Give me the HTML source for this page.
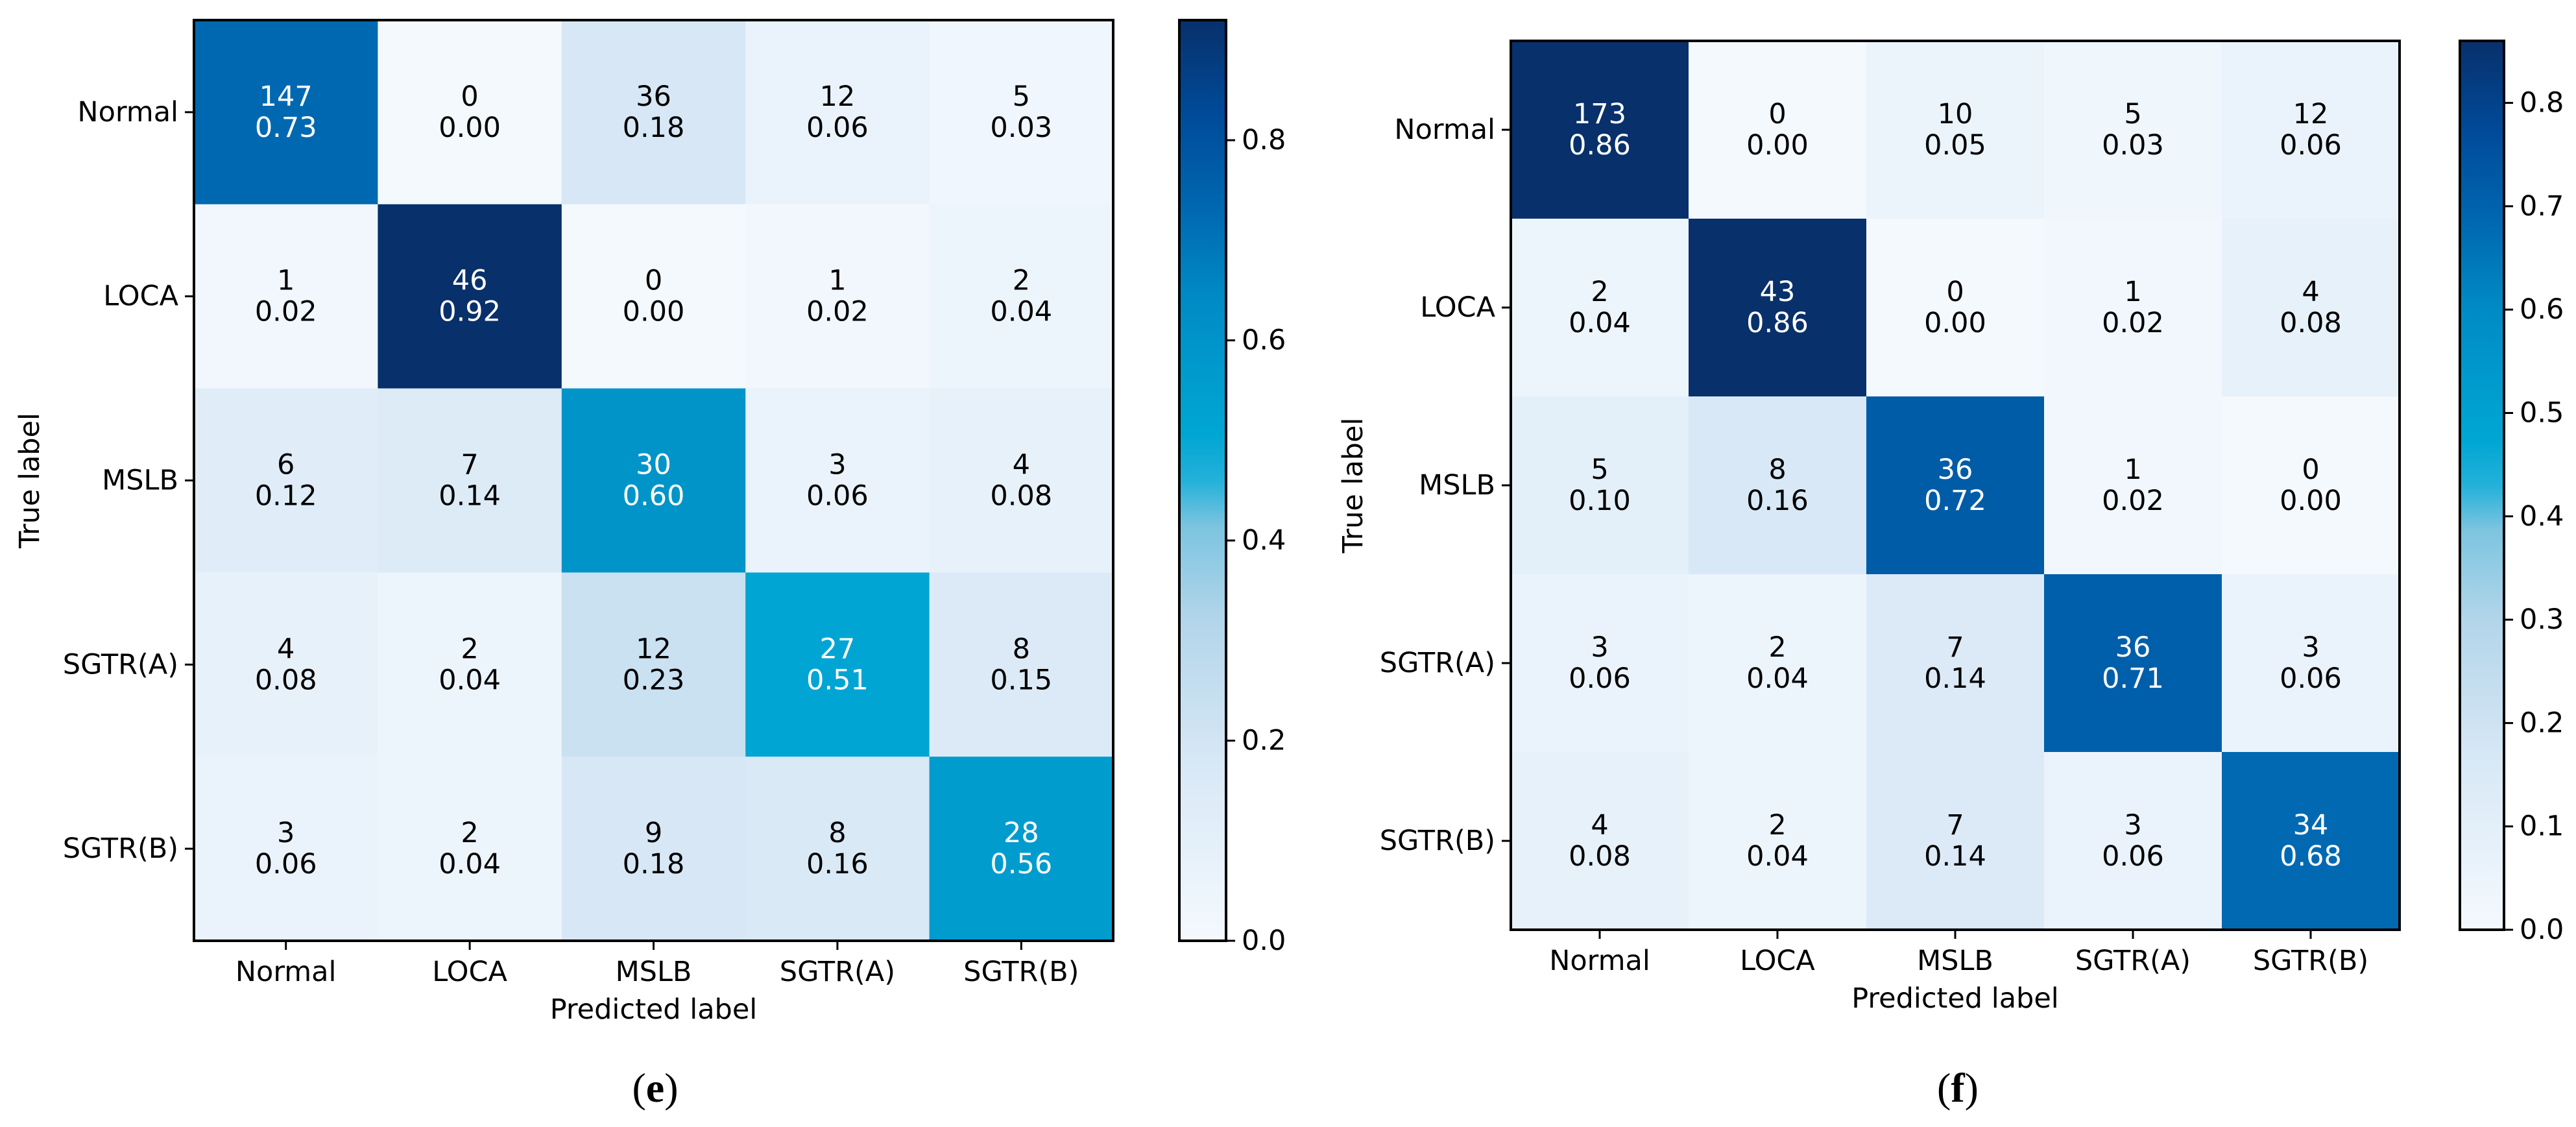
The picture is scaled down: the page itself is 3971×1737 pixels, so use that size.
<!DOCTYPE html>
<html><head><meta charset="utf-8"><style>
html,body{margin:0;padding:0;background:#fff;}
svg{display:block;}
text.sans{font-family:"DejaVu Sans","Liberation Sans",sans-serif;}
text.serif{font-family:"Liberation Serif","DejaVu Serif",serif;}
</style></head><body>
<svg id="fig" width="3971" height="1737" viewBox="0 0 3971 1737" xmlns="http://www.w3.org/2000/svg">
<rect x="0" y="0" width="3971" height="1737" fill="#fff"/>
</svg>
<script>
const classLabels = ["Normal","LOCA","MSLB","SGTR(A)","SGTR(B)"];
const countsE = [[147,0,36,12,5],[1,46,0,1,2],[6,7,30,3,4],[4,2,12,27,8],[3,2,9,8,28]];
const fracsE = [[0.73,0.00,0.18,0.06,0.03],[0.02,0.92,0.00,0.02,0.04],[0.12,0.14,0.60,0.06,0.08],[0.08,0.04,0.23,0.51,0.15],[0.06,0.04,0.18,0.16,0.56]];
const ticksE = [0.0,0.2,0.4,0.6,0.8];
const vmaxE = 0.92;
const countsF = [[173,0,10,5,12],[2,43,0,1,4],[5,8,36,1,0],[3,2,7,36,3],[4,2,7,3,34]];
const fracsF = [[0.86,0.00,0.05,0.03,0.06],[0.04,0.86,0.00,0.02,0.08],[0.10,0.16,0.72,0.02,0.00],[0.06,0.04,0.14,0.71,0.06],[0.08,0.04,0.14,0.06,0.68]];
const ticksF = [0.0,0.1,0.2,0.3,0.4,0.5,0.6,0.7,0.8];
const vmaxF = 0.86;

const NS="http://www.w3.org/2000/svg";
const svg=document.getElementById('fig');
const stops=[[0,[244,249,254]],[0.2,[214,231,245]],[0.35,[178,213,234]],[0.45,[124,196,224]],[0.52,[0,170,214]],[0.6,[0,158,207]],[0.7,[0,138,196]],[0.8,[0,102,176]],[0.9,[0,74,152]],[1,[8,48,107]]];
function cmap(t){t=Math.max(0,Math.min(1,t));for(let i=1;i<stops.length;i++){if(t<=stops[i][0]){const a=stops[i-1],b=stops[i];const f=(t-a[0])/(b[0]-a[0]);const c=a[1].map((v,k)=>Math.round(v+(b[1][k]-v)*f));return `rgb(${c[0]},${c[1]},${c[2]})`;}}return 'rgb(8,48,107)';}
function el(tag,attrs,parent){const e=document.createElementNS(NS,tag);for(const k in attrs)e.setAttribute(k,attrs[k]);(parent||svg).appendChild(e);return e;}
function txt(s,attrs,parent){if(!attrs.class)attrs.class='sans';const e=el('text',attrs,parent);e.textContent=s;return e;}

function drawPanel(p){
  const g=el('g',{});
  
  
  const n=classLabels.length;
  const cw=(p.x1-p.x0)/n, ch=(p.y1-p.y0)/n;
  const xs=i=>p.x0+i*cw, ys=j=>p.y0+j*ch;
  for(let r=0;r<n;r++)for(let c=0;c<n;c++){
    const v=p.fracs[r][c];
    const rc=el('rect',{x:xs(c),y:ys(r),width:cw+0.5,height:ch+0.5,fill:cmap(v/p.vmax)},g);
    
    
    const col=v/p.vmax>0.5?'#fff':'#000';
    const cx=xs(c)+cw/2, cy=ys(r)+ch/2;
    const t1=txt(String(p.counts[r][c]),{x:cx,y:cy-24,'font-size':43,fill:col,'text-anchor':'middle','dominant-baseline':'central'},g);
    
    
    const t2=txt(v.toFixed(2),{x:cx,y:cy+24,'font-size':43,fill:col,'text-anchor':'middle','dominant-baseline':'central'},g);
    
    
  }
  el('rect',{x:p.x0,y:p.y0,width:p.x1-p.x0,height:p.y1-p.y0,fill:'none',stroke:'#000','stroke-width':4},g);
  for(let i=0;i<n;i++){
    const x=xs(i)+cw/2, y=ys(i)+ch/2;
    el('line',{x1:x,y1:p.y1,x2:x,y2:p.y1+14,stroke:'#000','stroke-width':3},g);
    const xl=txt(classLabels[i],{x:x,y:p.y1+48,'font-size':43,'text-anchor':'middle','dominant-baseline':'central',fill:'#000'},g);
    
    
    el('line',{x1:p.x0-14,y1:y,x2:p.x0,y2:y,stroke:'#000','stroke-width':3},g);
    const yl=txt(classLabels[i],{x:p.x0-24,y:y,'font-size':43,'text-anchor':'end','dominant-baseline':'central',fill:'#000'},g);
    
    
  }
  const xt=txt('Predicted label',{x:(p.x0+p.x1)/2,y:p.y1+106,'font-size':43,'text-anchor':'middle','dominant-baseline':'central',fill:'#000'},g);
  
  
  const yt=txt('True label',{x:0,y:0,'font-size':43,'text-anchor':'middle','dominant-baseline':'central',fill:'#000',transform:`translate(${p.ytx},${(p.y0+p.y1)/2}) rotate(-90)`},g);
  
  
  const defs=el('defs',{},g);
  const lg=el('linearGradient',{id:p.name+'-grad',x1:0,y1:1,x2:0,y2:0},defs);
  for(let k=0;k<=20;k++){el('stop',{offset:k/20,'stop-color':cmap(k/20)},lg);}
  const cb=el('rect',{x:p.cbx0,y:p.y0,width:p.cbx1-p.cbx0,height:p.y1-p.y0,fill:`url(#${p.name}-grad)`,stroke:'#000','stroke-width':4},g);
  
  
  const cy=v=>p.y1-(v/p.vmax)*(p.y1-p.y0);
  p.ticks.forEach(v=>{
    el('line',{x1:p.cbx1,y1:cy(v),x2:p.cbx1+14,y2:cy(v),stroke:'#000','stroke-width':3},g);
    const ct=txt(v.toFixed(1),{x:p.cbx1+24,y:cy(v),'font-size':43,'dominant-baseline':'central',fill:'#000'},g);
    
    
  });
  const cap=txt('',{class:'serif',x:p.capx,y:1676,'font-size':64,'text-anchor':'middle','dominant-baseline':'central',fill:'#000'},g);
  
  
  const t1=el('tspan',{},cap);t1.textContent='(';
  const t2=el('tspan',{'font-weight':'bold'},cap);t2.textContent=p.cap;
  const t3=el('tspan',{},cap);t3.textContent=')';
}
drawPanel({name:'panel-e',x0:299,x1:1716,y0:31,y1:1450,cbx0:1818,cbx1:1890,ytx:46,counts:countsE,fracs:fracsE,vmax:vmaxE,ticks:ticksE,cap:'e',capx:1010});
drawPanel({name:'panel-f',x0:2329,x1:3699,y0:63,y1:1433,cbx0:3792,cbx1:3860,ytx:2086,counts:countsF,fracs:fracsF,vmax:vmaxF,ticks:ticksF,cap:'f',capx:3018});
</script>
</body></html>
